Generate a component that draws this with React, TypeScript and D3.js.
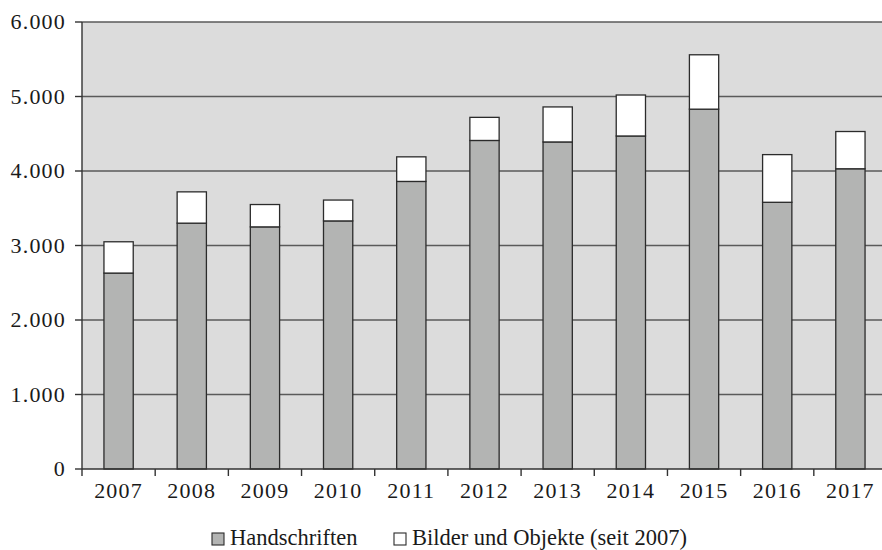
import { useEffect, useRef } from "react";
import * as d3 from "d3";

const YEARS = ["2007", "2008", "2009", "2010", "2011", "2012", "2013", "2014", "2015", "2016", "2017"];
const HANDSCHRIFTEN = [2630, 3300, 3250, 3330, 3860, 4410, 4390, 4470, 4830, 3580, 4030];
const BILDER = [420, 420, 300, 280, 330, 310, 470, 550, 730, 640, 500];
const Y_TICKS = [0, 1000, 2000, 3000, 4000, 5000, 6000];
const LEGEND = [
  { label: "Handschriften", color: "#b3b4b3" },
  { label: "Bilder und Objekte (seit 2007)", color: "#ffffff" },
];

const WIDTH = 882;
const HEIGHT = 550;
const LEFT = 82;
const RIGHT = 887;
const TOP = 22;
const BOTTOM = 469;
const FONT = "'Liberation Serif', 'DejaVu Serif', serif";

const fmt = (v: number) => (v === 0 ? "0" : d3.format(",")(v).replace(/,/g, "."));

export default function App() {
  const svgRef = useRef<SVGSVGElement | null>(null);

  useEffect(() => {
    document.body.style.margin = "0";
    const svgEl = svgRef.current;
    if (!svgEl) return;
    const svg = d3.select(svgEl);
    svg.selectAll("*").remove();

    const x = d3.scaleBand<string>().domain(YEARS).range([LEFT, RIGHT]).paddingInner(0.6).paddingOuter(0.3);
    const y = d3.scaleLinear().domain([0, 6000]).range([BOTTOM, TOP]);

    // plot background
    svg
      .append("rect")
      .attr("x", LEFT)
      .attr("y", TOP)
      .attr("width", RIGHT - LEFT)
      .attr("height", BOTTOM - TOP)
      .attr("fill", "#dcdcdc");

    // gridlines
    svg
      .append("g")
      .selectAll("line")
      .data(Y_TICKS.filter((t) => t > 0))
      .enter()
      .append("line")
      .attr("x1", LEFT)
      .attr("x2", RIGHT)
      .attr("y1", (d) => y(d))
      .attr("y2", (d) => y(d))
      .attr("stroke", "#5a5a5a")
      .attr("stroke-width", 1.3);

    // stacked bars
    const rows = YEARS.map((yr, i) => ({ yr, h: HANDSCHRIFTEN[i], b: BILDER[i] }));
    const bars = svg.append("g").attr("stroke", "#2b2b2b").attr("stroke-width", 1.3);
    bars
      .selectAll("rect.h")
      .data(rows)
      .enter()
      .append("rect")
      .attr("class", "h")
      .attr("x", (d) => x(d.yr) ?? 0)
      .attr("width", x.bandwidth())
      .attr("y", (d) => y(d.h))
      .attr("height", (d) => y(0) - y(d.h))
      .attr("fill", LEGEND[0].color);
    bars
      .selectAll("rect.b")
      .data(rows)
      .enter()
      .append("rect")
      .attr("class", "b")
      .attr("x", (d) => x(d.yr) ?? 0)
      .attr("width", x.bandwidth())
      .attr("y", (d) => y(d.h + d.b))
      .attr("height", (d) => y(d.h) - y(d.h + d.b))
      .attr("fill", LEGEND[1].color);

    // y axis
    const yAxis = svg.append("g").attr("stroke", "#333").attr("stroke-width", 1.4);
    yAxis.append("line").attr("x1", LEFT).attr("x2", LEFT).attr("y1", TOP).attr("y2", BOTTOM + 7);
    yAxis
      .selectAll("line.t")
      .data(Y_TICKS)
      .enter()
      .append("line")
      .attr("class", "t")
      .attr("x1", LEFT - 7)
      .attr("x2", LEFT)
      .attr("y1", (d) => y(d))
      .attr("y2", (d) => y(d));
    svg
      .append("g")
      .selectAll("text")
      .data(Y_TICKS)
      .enter()
      .append("text")
      .text((d) => fmt(d))
      .attr("x", 66)
      .attr("y", (d) => y(d))
      .attr("dy", "0.33em")
      .attr("text-anchor", "end")
      .attr("font-family", FONT)
      .attr("font-size", 22)
      .attr("letter-spacing", 1.2)
      .attr("fill", "#1a1a1a");

    // x axis
    const xAxis = svg.append("g").attr("stroke", "#333").attr("stroke-width", 1.4);
    xAxis.append("line").attr("x1", LEFT).attr("x2", RIGHT).attr("y1", BOTTOM).attr("y2", BOTTOM);
    const step = x.step();
    xAxis
      .selectAll("line.t")
      .data(YEARS)
      .enter()
      .append("line")
      .attr("class", "t")
      .attr("x1", (d) => (x(d) ?? 0) + x.bandwidth() / 2 + step / 2)
      .attr("x2", (d) => (x(d) ?? 0) + x.bandwidth() / 2 + step / 2)
      .attr("y1", BOTTOM)
      .attr("y2", BOTTOM + 7);
    svg
      .append("g")
      .selectAll("text")
      .data(YEARS)
      .enter()
      .append("text")
      .text((d) => d)
      .attr("x", (d) => (x(d) ?? 0) + x.bandwidth() / 2)
      .attr("y", 498)
      .attr("text-anchor", "middle")
      .attr("font-family", FONT)
      .attr("font-size", 22)
      .attr("letter-spacing", 1.2)
      .attr("fill", "#1a1a1a");

    // legend
    const legendX = [212, 394];
    const lg = svg
      .append("g")
      .selectAll("g")
      .data(LEGEND)
      .enter()
      .append("g")
      .attr("transform", (_d, i) => `translate(${legendX[i]}, 533)`);
    lg.append("rect")
      .attr("width", 12)
      .attr("height", 12)
      .attr("fill", (d) => d.color)
      .attr("stroke", "#2b2b2b")
      .attr("stroke-width", 1.1);
    lg.append("text")
      .text((d) => d.label)
      .attr("x", 18)
      .attr("y", 12)
      .attr("font-family", FONT)
      .attr("font-size", 22.5)
      .attr("fill", "#1a1a1a");
  }, []);

  return (
    <svg
      ref={svgRef}
      width={WIDTH}
      height={HEIGHT}
      style={{ display: "block" }}
      role="img"
      aria-label="Handschriften und Bilder und Objekte 2007–2017"
    />
  );
}
